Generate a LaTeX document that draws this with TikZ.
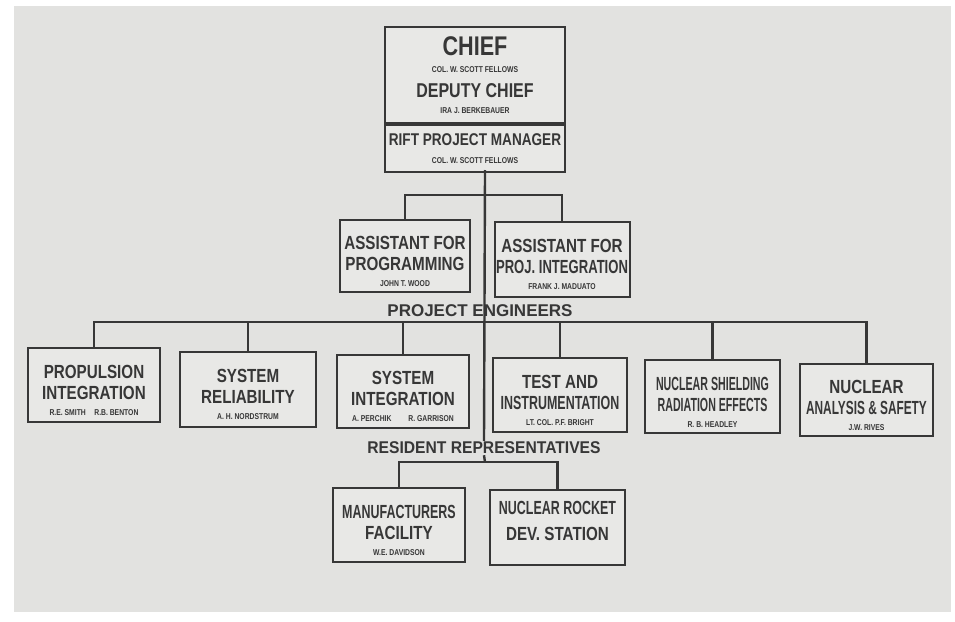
\documentclass[tikz,border=0pt]{standalone}
\usepackage{fontspec}
\usepackage{graphicx}
\setmainfont[FakeStretch=0.8]{Liberation Sans}
\definecolor{paper}{RGB}{226,226,224}
\definecolor{boxpaper}{RGB}{232,232,230}
\definecolor{ink}{RGB}{55,55,55}
\newcommand\szChief{\fontsize{27}{28}\selectfont\bfseries}
\newcommand\szDep{\fontsize{20}{21}\selectfont\bfseries}
\newcommand\szRpm{\fontsize{17}{19}\selectfont\bfseries}
\newcommand\szT{\fontsize{19}{21}\selectfont\bfseries}
\newcommand\szN{\fontsize{8.5}{17}\selectfont\bfseries}
\newcommand\szL{\fontsize{17}{19}\selectfont\bfseries}
\newcommand\lowstrut{\rule{0pt}{24pt}}
\begin{document}
\begin{tikzpicture}[x=1pt,y=-1pt,
  orgbox/.style={draw=ink, line width=2pt, fill=boxpaper, align=center,
    inner sep=1pt, text=ink, font=\szT},
  pebox/.style={orgbox, minimum width=132pt, minimum height=73pt},
  conn/.style={draw=ink, line width=2.4pt},
  grouplabel/.style={text=ink, font=\szL, inner sep=1pt}
]
\fill[white] (0,0) rectangle (955,621);
\fill[paper] (14,6) rectangle (951,612);
\useasboundingbox (0,0) rectangle (955,621);

% top box
\node[orgbox, minimum width=180pt, minimum height=96pt] (chief) at (475,75)
  {\szChief CHIEF\\[-4pt]
   \szN COL. W. SCOTT FELLOWS\\[4pt]
   \szDep DEPUTY CHIEF\\[-5pt]
   \szN IRA J. BERKEBAUER};
\node[orgbox, minimum width=180pt, minimum height=47pt, anchor=north] (rpm) at (chief.south)
  {\szRpm RIFT PROJECT MANAGER\\[-3pt]
   \szN COL. W. SCOTT FELLOWS};

% assistants
\node[pebox, minimum width=130pt, minimum height=72pt] (ap) at (405,256)
  {\lowstrut ASSISTANT FOR\\
   PROGRAMMING\\[-5pt]
   \szN JOHN T. WOOD};
\node[pebox, minimum width=135pt, minimum height=75pt] (aj) at (562,259.5)
  {\lowstrut ASSISTANT FOR\\
   \scalebox{0.86}[1]{PROJ. INTEGRATION}\\[-5pt]
   \szN FRANK J. MADUATO};

% labels
\node[grouplabel] (pe) at (480,311) {\scalebox{1.25}[1]{PROJECT ENGINEERS}};
\node[grouplabel, fill=paper] (rr) at (484,448) {\scalebox{1.15}[1]{RESIDENT REPRESENTATIVES}};

% project engineer boxes
\node[pebox, minimum height=74pt] (pe1) at (94,385)
  {\lowstrut PROPULSION\\
   INTEGRATION\\[-5pt]
   \szN R.E. SMITH\quad R.B. BENTON};
\node[pebox, minimum width=136pt, minimum height=75pt] (pe2) at (248,389.5)
  {\lowstrut SYSTEM\\
   RELIABILITY\\[-5pt]
   \szN A. H. NORDSTRUM};
\node[pebox] (pe3) at (403,391.5)
  {\lowstrut SYSTEM\\
   INTEGRATION\\[-5pt]
   \szN A. PERCHIK\qquad R. GARRISON};
\node[pebox, minimum width=134pt, minimum height=74pt] (pe4) at (560,395)
  {\lowstrut TEST AND\\
   \scalebox{0.82}[1]{INSTRUMENTATION}\\[-5pt]
   \szN LT. COL. P.F. BRIGHT};
\node[pebox, minimum width=135pt] (pe5) at (712.5,396.5)
  {\lowstrut\scalebox{0.7}[1]{NUCLEAR SHIELDING}\\
   \scalebox{0.7}[1]{RADIATION EFFECTS}\\[-5pt]
   \szN R. B. HEADLEY};
\node[pebox, minimum width=133pt, minimum height=72pt] (pe6) at (866.5,400)
  {\lowstrut NUCLEAR\\
   \scalebox{0.78}[1]{ANALYSIS \& SAFETY}\\[-5pt]
   \szN J.W. RIVES};

% resident boxes
\node[pebox, minimum height=74pt] (mf) at (399,525)
  {\lowstrut\scalebox{0.82}[1]{MANUFACTURERS}\\
   FACILITY\\[-5pt]
   \szN W.E. DAVIDSON};
\node[pebox, minimum width=135pt, minimum height=75pt] (nr) at (557.5,527.5)
  {\scalebox{0.82}[1]{NUCLEAR ROCKET}\\[5pt]
   DEV. STATION\\[-7pt]};

% connector joints
\coordinate (tr) at (485,170);
\coordinate (aja) at (485,195);
\coordinate (pej) at (485,322);
\coordinate (rrj) at (485,462);

% connectors
\draw[conn] (tr) -- (rr.north);
\draw[conn] (rr.south) -- (rrj);
\draw[conn] (ap.north) -- (ap.north |- aja) -- (aj.north |- aja) -- (aj.north);
\draw[conn] (pe1.north) -- (pe1.north |- pej) -- (pe6.north |- pej) -- (pe6.north);
\foreach \b in {pe2,pe3,pe4,pe5} \draw[conn] (\b.north) -- (\b.north |- pej);
\draw[conn] (mf.north) -- (mf.north |- rrj) -- (nr.north |- rrj) -- (nr.north);
\end{tikzpicture}
\end{document}
